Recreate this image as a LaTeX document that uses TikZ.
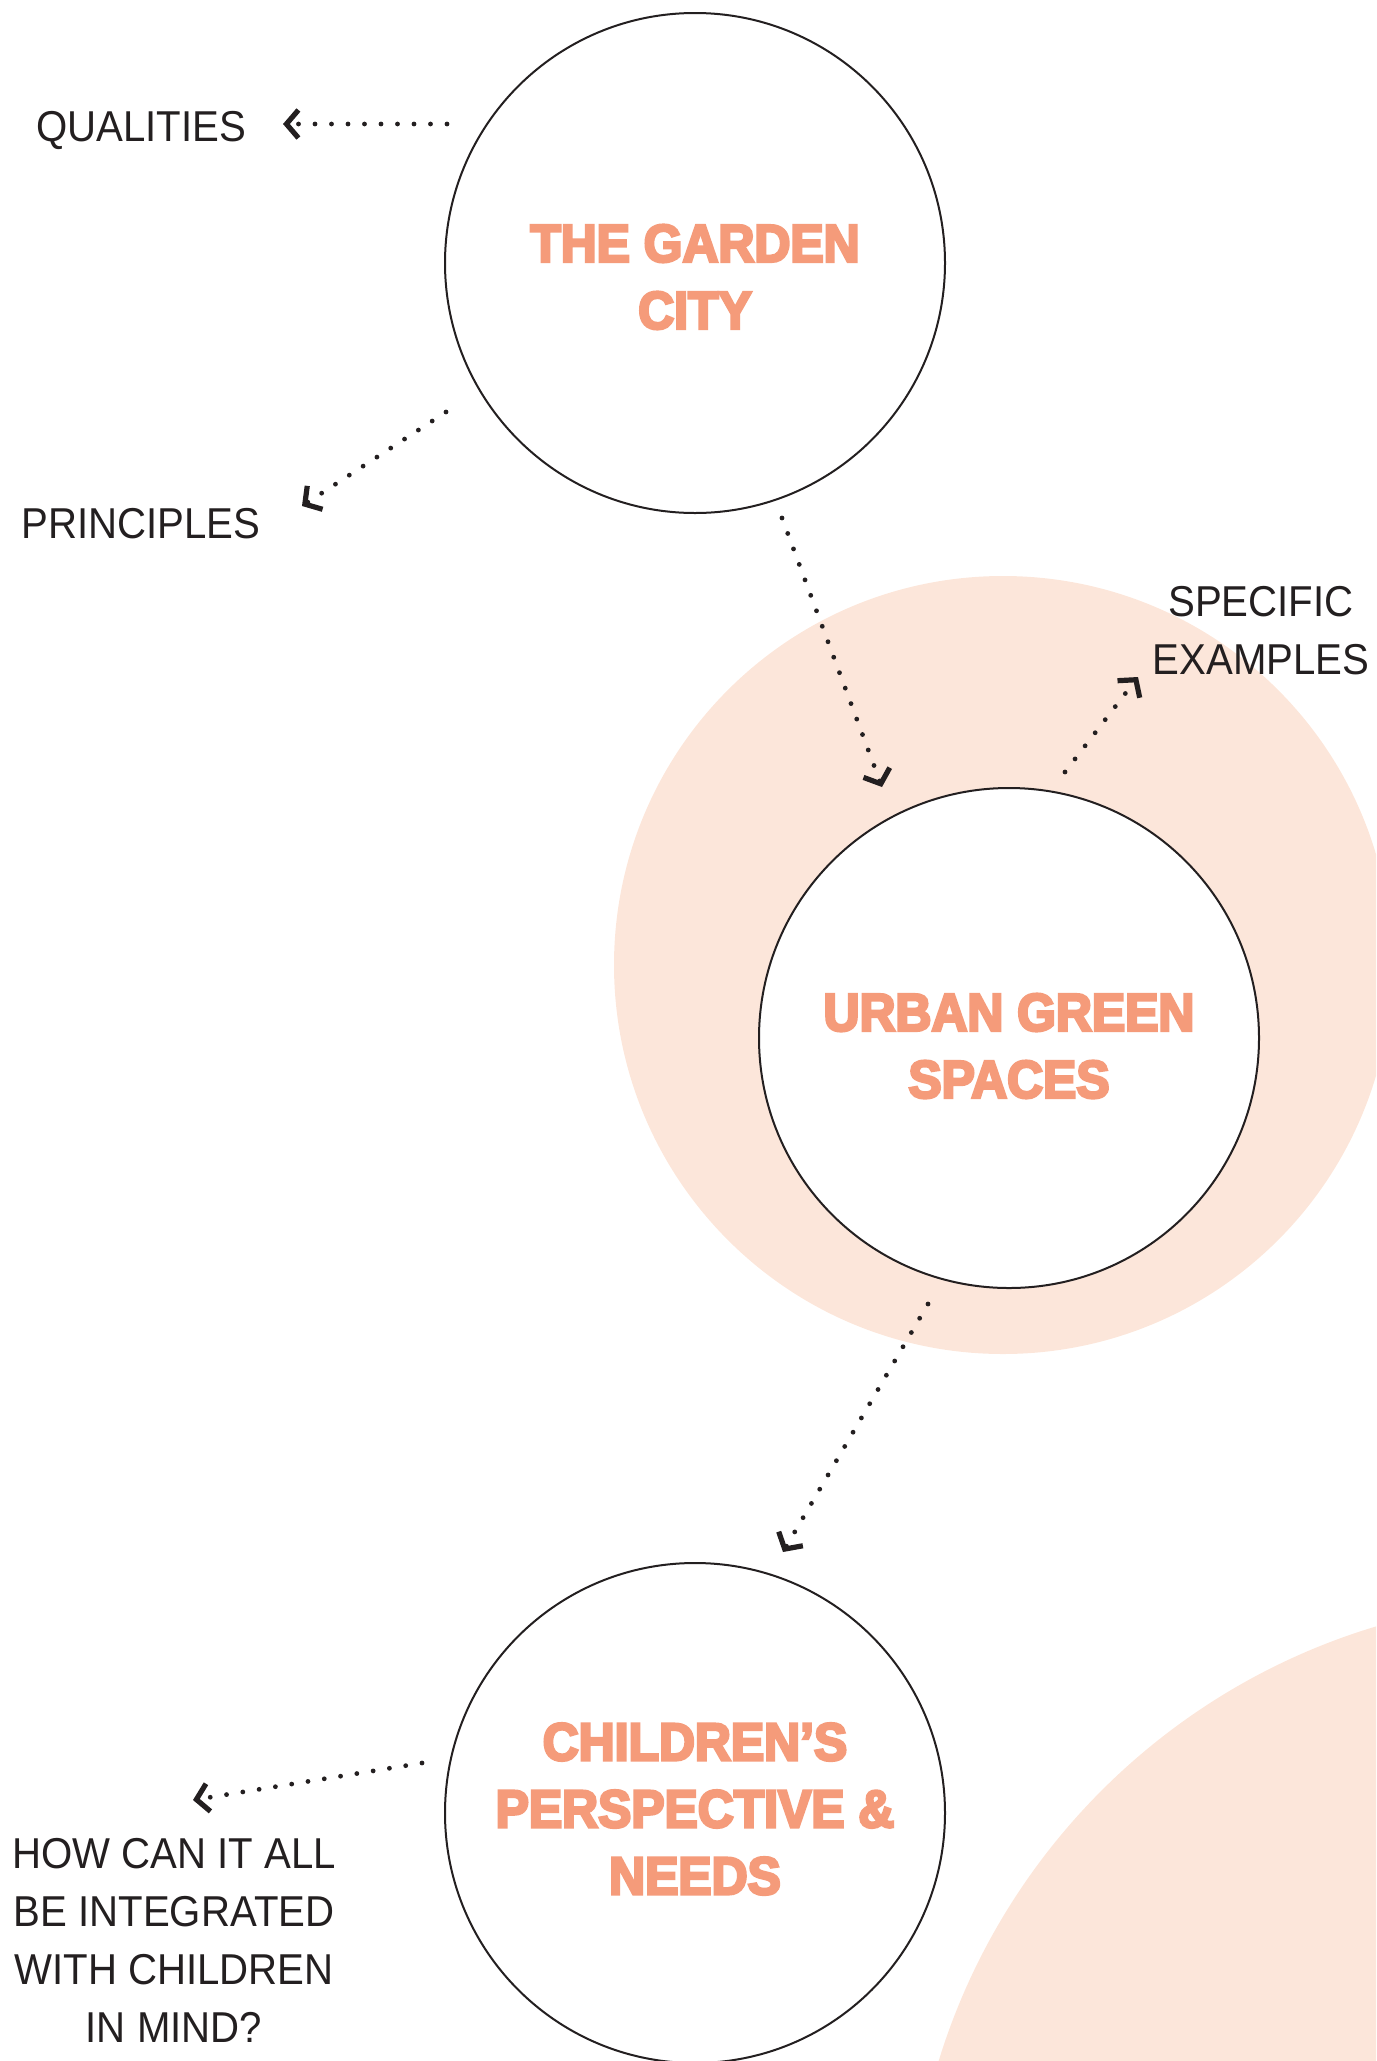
\documentclass[tikz,border=0pt]{standalone}
\usepackage{fontspec}
\setmainfont{Liberation Sans}
\newfontfamily\labelfont{Liberation Sans}[FakeStretch=0.93]
\newfontfamily\titlefont{Liberation Sans Bold}[FakeStretch=0.94,FakeBold=5]
\usepackage{xcolor}
\definecolor{cTitle}{HTML}{F59B7A}
\definecolor{cHalo}{HTML}{FCE6DA}
\definecolor{cInk}{HTML}{231F20}
\usepackage{tikz}
\usetikzlibrary{arrows.meta}
\tikzset{
  node-topic/.style={draw=cInk,line width=1pt,circle,fill=white,
    minimum size=250pt,inner sep=0pt},
  node-title/.style={inner sep=0pt,align=center,text=cTitle,
    font=\titlefont\fontsize{26.5}{33.5}\selectfont},
  node-label/.style={inner sep=0pt,align=center,text=cInk,
    font=\labelfont\fontsize{21.6}{29}\selectfont},
  halo/.style={fill=cHalo},
  arrow-dot/.style={-{Straight Barb[length=6pt,width=14pt,line width=2.6pt]},
    draw=cInk,line width=2.4pt,line cap=round,dash pattern=on 0pt off 8.25pt},
}

\begin{document}
\begin{tikzpicture}[x=0.5pt,y=-0.5pt]
  \clip (0,0) rectangle (1376,2061);
  % peach discs behind
  \fill[halo] (1003,965) circle[radius=194.5pt];
  \fill[halo] (1564,2253) circle[radius=327pt];
  % topics
  \node[node-topic] (garden) at (695,263) {};
  \node[node-topic] (urban) at (1009,1038) {};
  \node[node-topic] (children) at (695,1813) {};
  \node[node-title] (garden-title) at ([yshift=-7pt]garden.center) {THE GARDEN\\CITY};
  \node[node-title] (urban-title) at ([yshift=-4pt]urban.center) {URBAN GREEN\\SPACES};
  \node[node-title] (children-title) at ([yshift=2pt]children.center) {CHILDREN’S\\PERSPECTIVE \&\\NEEDS};
  % side labels
  \node[node-label,anchor=base] (qualities) at (141,141) {QUALITIES};
  \node[node-label,anchor=base] (principles) at (141,538) {PRINCIPLES};
  \node[node-label] (examples) at (1261,631) {SPECIFIC\\EXAMPLES};
  \node[node-label] (integrate) at (174,1940) {HOW CAN IT ALL\\BE INTEGRATED\\WITH CHILDREN\\IN MIND?};
  % arrow ends
  \coordinate (garden-w) at (447,124);
  \coordinate (qualities-e) at (283,124);
  \coordinate (garden-sw) at (446,412);
  \coordinate (principles-ne) at (302,506);
  \coordinate (garden-s) at (782,518);
  \coordinate (urban-n) at (882,787);
  \coordinate (urban-ne) at (1065,772);
  \coordinate (examples-sw) at (1138,677);
  \coordinate (urban-s) at (928,1304);
  \coordinate (children-n) at (783,1552);
  \coordinate (children-w) at (422,1763);
  \coordinate (integrate-n) at (193,1800);
  \draw[arrow-dot] (garden-w) -- (qualities-e);
  \draw[arrow-dot] (garden-sw) -- (principles-ne);
  \draw[arrow-dot] (garden-s) -- (urban-n);
  \draw[arrow-dot] (urban-ne) -- (examples-sw);
  \draw[arrow-dot] (urban-s) -- (children-n);
  \draw[arrow-dot] (children-w) -- (integrate-n);
\end{tikzpicture}
\end{document}
